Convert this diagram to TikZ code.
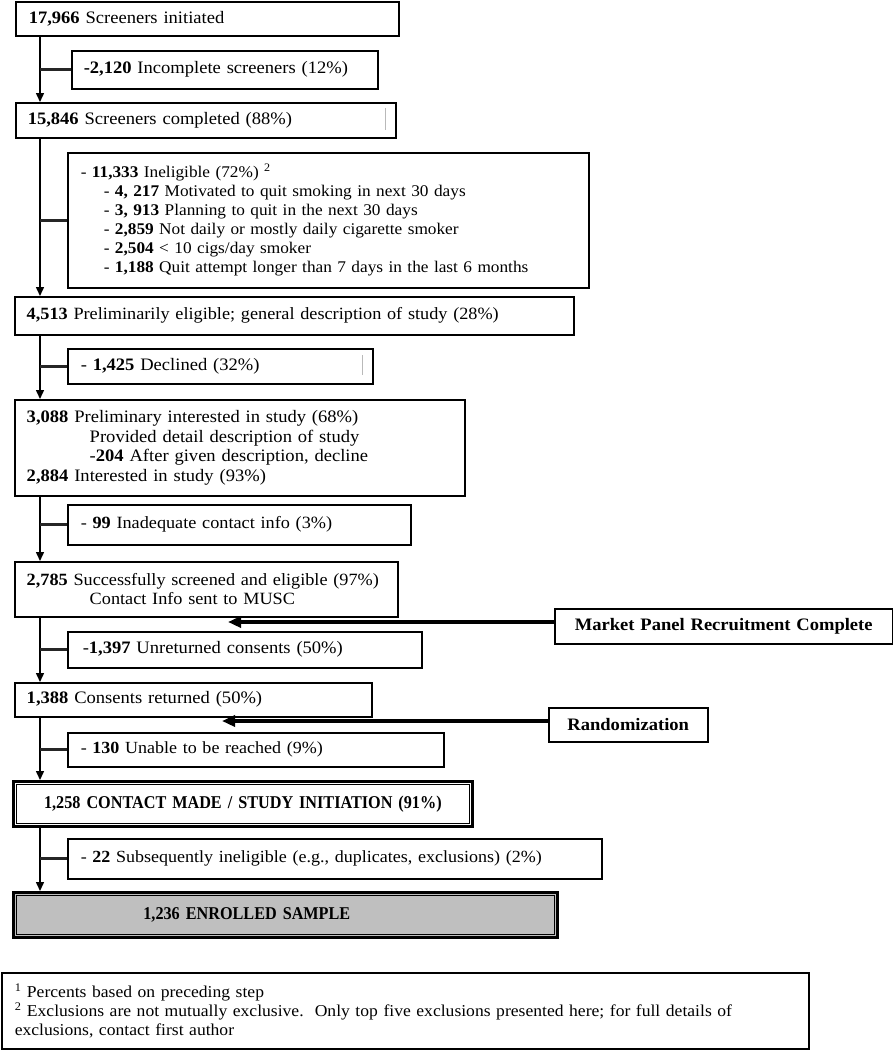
\documentclass[tikz,border=0pt]{standalone}
\usepackage{fontspec}
\setmainfont{Liberation Serif}[FakeStretch=1.06]
\newfontfamily\capfont{Liberation Serif}[FakeStretch=0.9]
\usetikzlibrary{arrows.meta}
\newcommand{\fs}{\fontsize{17.5}{19}\selectfont}
\newcommand{\fsm}{\fontsize{16.3}{19}\selectfont}
\newcommand{\fsn}{\fontsize{17}{19}\selectfont}
\newcommand{\fsk}{\fontsize{17.2}{19}\selectfont}
\newcommand{\fcap}{\capfont\fontsize{18}{20}\selectfont\bfseries}
\begin{document}
\begin{tikzpicture}[x=1pt,y=-1pt,
  box/.style={draw, line width=1.5pt, anchor=north west, align=left,
    inner xsep=12pt, inner ysep=0pt, font=\fs},
  dbl/.style={box, line width=2.8pt},
  arr/.style={line width=1.5pt, -{Triangle[width=8pt,length=9pt]}},
  harr/.style={line width=3.8pt, -{Triangle[width=11pt,length=13pt]}},
  stub/.style={line width=2.8pt, black!85},
  scanmark/.style={gray!55, line width=1pt}]
\useasboundingbox (0,0) rectangle (893,1050);
\coordinate (spine) at (40,0);

\node[box, text width=357pt, minimum height=34pt, inner xsep=13pt] (b1) at (15,1)
  {\textbf{17,966} Screeners initiated};
\node[box, text width=282pt, minimum height=38pt] (b2) at (71,50)
  {\textbf{-2,120} Incomplete screeners (12\%)};
\node[box, text width=356pt, minimum height=35pt] (b3) at (15,102)
  {\textbf{15,846} Screeners completed (88\%)};
\node[box, font=\fsm, text width=495pt, minimum height=135pt, inner xsep=13pt] (b4) at (67,152)
  {- \textbf{11,333} Ineligible (72\%) \textsuperscript{2}\\
   \hspace*{23pt}- \textbf{4, 217} Motivated to quit smoking in next 30 days\\
   \hspace*{23pt}- \textbf{3, 913} Planning to quit in the next 30 days\\
   \hspace*{23pt}- \textbf{2,859} Not daily or mostly daily cigarette smoker\\
   \hspace*{23pt}- \textbf{2,504} {<} 10 cigs/day smoker\\
   \hspace*{23pt}- \textbf{1,188} Quit attempt longer than 7 days in the last 6 months};
\node[box, font=\fsk, text width=535pt, minimum height=38pt] (b5) at (14,296)
  {\textbf{4,513} Preliminarily eligible; general description of study (28\%)};
\node[box, text width=279pt, minimum height=35pt, inner xsep=13pt] (b6) at (67,348)
  {- \textbf{1,425} Declined (32\%)};
\node[box, font=\fontsize{17.5}{19.5}\selectfont, text width=426pt, minimum height=96pt] (b7) at (14,399)
  {\textbf{3,088} Preliminary interested in study (68\%)\\
   \hspace*{63pt}Provided detail description of study\\
   \hspace*{63pt}-\textbf{204} After given description, decline\\
   \textbf{2,884} Interested in study (93\%)};
\node[box, font=\fsk, text width=317pt, minimum height=40pt, inner xsep=13pt] (b8) at (67,504)
  {- \textbf{99} Inadequate contact info (3\%)};
\node[box, font=\fsk, text width=359pt, minimum height=55pt] (b9) at (14,561)
  {\textbf{2,785} Successfully screened and eligible (97\%)\\
   \hspace*{63pt}Contact Info sent to MUSC};
\node[box, text width=324pt, minimum height=36pt, inner xsep=15pt] (b10) at (67,631)
  {-\textbf{1,397} Unreturned consents (50\%)};
\node[box, text width=333pt, minimum height=34pt] (b11) at (14,682)
  {\textbf{1,388} Consents returned (50\%)};
\node[box, font=\fsn, text width=350pt, minimum height=34pt, inner xsep=13pt] (b12) at (67,732)
  {- \textbf{130} Unable to be reached (9\%)};
\node[dbl, font=\fcap, text width=435pt, minimum height=45pt, align=center] (b13) at (12,780)
  {1,258 CONTACT MADE / STUDY INITIATION (91\%)};
\node[box, font=\fsn, text width=508pt, minimum height=40pt, inner xsep=13pt] (b14) at (67,838)
  {- \textbf{22} Subsequently ineligible (e.g., duplicates, exclusions) (2\%)};
\node[dbl, font=\fcap, fill=black!25, text width=520pt, minimum height=45pt] (b15) at (12,891)
  {\hspace*{118pt}1,236 ENROLLED SAMPLE};
\node[box, text width=314pt, minimum height=35pt, align=center] (mk) at (554,608)
  {\textbf{Market Panel Recruitment Complete}};
\node[box, text width=135pt, minimum height=34pt, align=center] (rd) at (548,707)
  {\textbf{Randomization}};
\node[box, font=\fontsize{16.6}{19}\selectfont, text width=781pt, minimum height=76pt, inner xsep=13pt] (fn) at (1,972)
  {\textsuperscript{1} Percents based on preceding step\\
   \textsuperscript{2} Exclusions are not mutually exclusive.\ \ Only top five exclusions presented here; for full details of\\
   exclusions, contact first author};

% inner lines of double-framed boxes
\draw[line width=1pt] ([shift={(4.5pt,-4.5pt)}]b13.north west) rectangle ([shift={(-4.5pt,4.5pt)}]b13.south east);
\draw[line width=1pt] ([shift={(4.5pt,-4.5pt)}]b15.north west) rectangle ([shift={(-4.5pt,4.5pt)}]b15.south east);

% spine arrows
\draw[arr] (b1.south -| spine) -- (b3.north -| spine);
\draw[arr] (b3.south -| spine) -- (b5.north -| spine);
\draw[arr] (b5.south -| spine) -- (b7.north -| spine);
\draw[arr] (b7.south -| spine) -- (b9.north -| spine);
\draw[arr] (b9.south -| spine) -- (b11.north -| spine);
\draw[arr] (b11.south -| spine) -- (b13.north -| spine);
\draw[arr] (b13.south -| spine) -- (b15.north -| spine);

% stubs to exclusion boxes
\foreach \b in {b2,b4,b6,b8,b10,b12,b14}
  \draw[stub] (\b.west -| spine) -- (\b.west);

% side arrows
\coordinate (mtip) at (228,622);
\coordinate (rtip) at (222,721);
\draw[harr] (mk.west |- mtip) -- (mtip);
\draw[harr] (rd.west |- rtip) -- (rtip);

% scan marks
\draw[scanmark] (385,108) -- (385,130);
\draw[scanmark] (362,355) -- (362,375);
\end{tikzpicture}
\end{document}
